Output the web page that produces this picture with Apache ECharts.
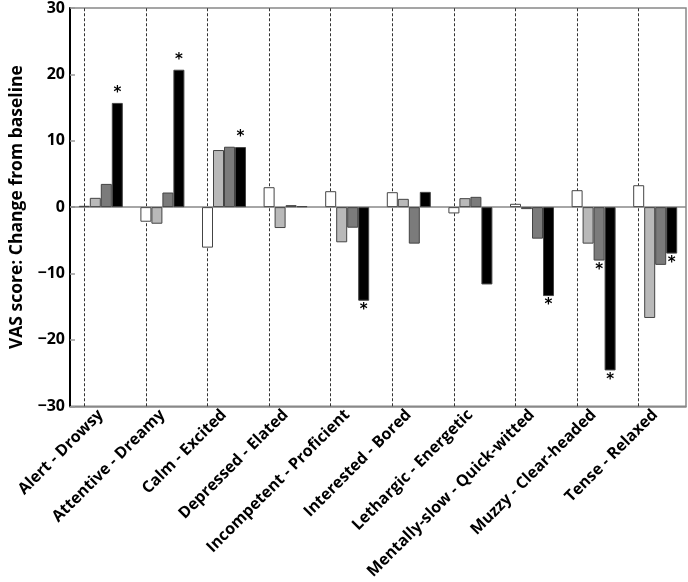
<!DOCTYPE html>
<html>
<head>
<meta charset="utf-8">
<script src="https://cdn.jsdelivr.net/npm/echarts@6/dist/echarts.min.js"></script>
<style>
  html, body { margin: 0; padding: 0; background: #fff; }
  #chart { width: 688px; height: 582px; }
</style>
</head>
<body>
<div id="chart"></div>
<script>
// categories (VAS scales)
const categories = [
  'Alert - Drowsy', 'Attentive - Dreamy', 'Calm - Excited', 'Depressed - Elated',
  'Incompetent - Proficient', 'Interested - Bored', 'Lethargic - Energetic',
  'Mentally-slow - Quick-witted', 'Muzzy - Clear-headed', 'Tense - Relaxed'
];

// change from baseline, one array per bar shade
const whiteVals = [0.2, -2.2, -6.1, 3.0, 2.4, 2.25, -0.95, 0.5, 2.55, 3.3];
const lightVals = [1.4, -2.5, 8.6, -3.15, -5.3, 1.25, 1.35, -0.3, -5.5, -16.7];
const darkVals  = [3.5, 2.2, 9.1, 0.3, -3.1, -5.5, 1.55, -4.75, -8.05, -8.7];
const blackVals = [15.7, 20.7, 9.05, 0.15, -14.1, 2.3, -11.65, -13.4, -24.6, -7.0];

// significance markers (*)
const whiteSig = [0, 0, 0, 0, 0, 0, 0, 0, 0, 0];
const lightSig = [0, 0, 0, 0, 0, 0, 0, 0, 0, 0];
const darkSig  = [0, 0, 0, 0, 0, 0, 0, 0, 1, 0];
const blackSig = [1, 1, 1, 0, 1, 0, 0, 1, 1, 1];

const yTicks = { min: -30, max: 30, step: 10 };

const FONT = 'Open Sans';

// bar data with asterisk labels on the significant ones
const withStars = (vals, sig) => vals.map((v, i) => ({
  value: v,
  label: {
    show: !!sig[i],
    position: v >= 0 ? 'top' : 'bottom',
    distance: 2,
    formatter: '*',
    color: '#000',
    fontSize: 15,
    fontWeight: 'bold',
    fontFamily: 'DejaVu Sans'
  }
}));

const barSeries = (name, vals, sig, color) => ({
  type: 'bar',
  name: name,
  data: withStars(vals, sig),
  barWidth: 11,
  barGap: '0%',
  z: 3,
  itemStyle: { color: color, borderColor: '#444', borderWidth: 1 }
});

const chart = echarts.init(document.getElementById('chart'));

const series = [
  barSeries('w', whiteVals, whiteSig, '#ffffff'),
  barSeries('l', lightVals, lightSig, '#b9b9b9'),
  barSeries('d', darkVals, darkSig, '#7b7b7b'),
  barSeries('b', blackVals, blackSig, '#000000')
];

// dashed verticals at each category and zero line (kept behind the bars)
series[0].markLine = {
  silent: true,
  symbol: 'none',
  z: 1,
  label: { show: false },
  animation: false,
  data: [
    ...categories.map(c => ({
      xAxis: c,
      lineStyle: { color: '#333', type: [3, 2], width: 1 }
    })),
    { yAxis: 0, lineStyle: { color: '#888', type: 'solid', width: 1.5 } }
  ]
};

chart.setOption({
  animation: false,
  grid: {
    left: 62, right: 2, top: 8, bottom: 175,
    show: true, borderColor: '#888', borderWidth: 1.5, backgroundColor: 'transparent'
  },
  xAxis: {
    type: 'category',
    data: categories,
    axisLine: { onZero: false, lineStyle: { color: '#888', width: 1.5 } },
    axisTick: { show: false },
    axisLabel: {
      interval: 0,
      rotate: 45,
      margin: 6,
      color: '#000',
      fontFamily: FONT,
      fontWeight: 'bold',
      fontSize: 16
    },
    splitLine: { show: false }
  },
  yAxis: {
    type: 'value',
    min: yTicks.min,
    max: yTicks.max,
    interval: yTicks.step,
    name: 'VAS score: Change from baseline',
    nameLocation: 'middle',
    nameGap: 44,
    nameTextStyle: { color: '#000', fontFamily: FONT, fontWeight: 'bold', fontSize: 17.5 },
    axisLine: { show: true, lineStyle: { color: '#000', width: 2 } },
    axisTick: { show: true, inside: true, length: 5, lineStyle: { color: '#999', width: 1.5 } },
    axisLabel: {
      color: '#000',
      fontFamily: FONT,
      fontWeight: 'bold',
      fontSize: 16,
      margin: 5,
      formatter: v => (v < 0 ? '\u2212' + Math.abs(v) : String(v))
    },
    splitLine: { show: false }
  },
  series: series
});
</script>
</body>
</html>
